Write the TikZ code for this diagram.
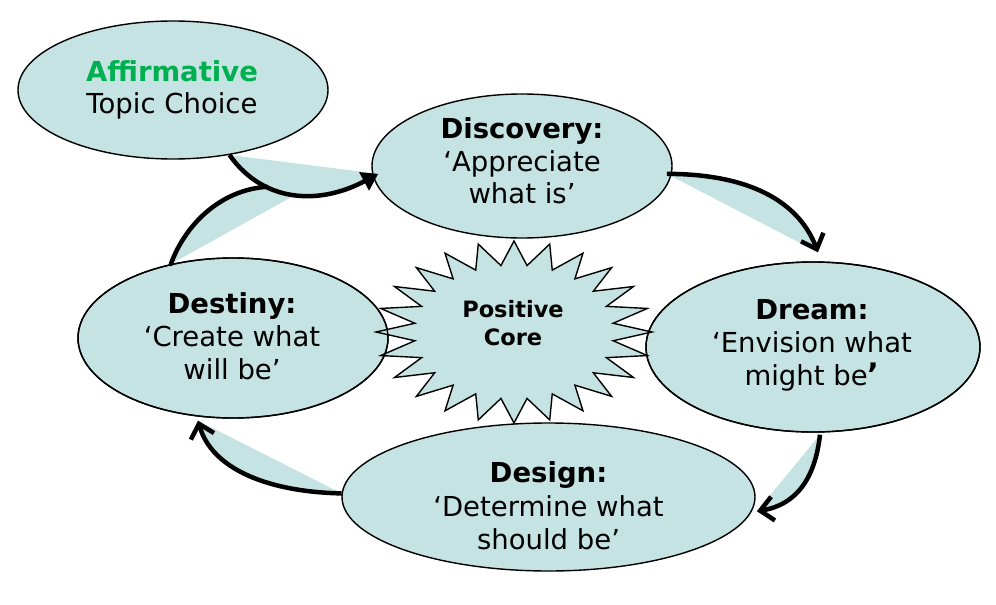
\documentclass[tikz,border=0pt]{standalone}
\usepackage{fontspec}
\setmainfont{DejaVu Sans}
\usetikzlibrary{shapes.geometric,arrows.meta}
\definecolor{cellfill}{RGB}{198,227,227}
\definecolor{affgreen}{RGB}{0,176,80}
\pgfdeclarelayer{bg}
\pgfsetlayers{bg,main}
\tikzset{
  ell/.style={ellipse, draw=black, line width=1.4pt, fill=cellfill, inner sep=0pt},
  ellline/.style={ellipse, draw=black, line width=1.4pt, inner sep=0pt},
  flow/.style={line width=4.5pt, draw=black},
  barb/.style={-{Straight Barb[length=13pt,width=24pt]}},
  tri/.style={-{Triangle[length=16pt,width=20pt]}},
  txt/.style={anchor=base, inner sep=0pt, font=\fontsize{27.5}{33}\selectfont},
  ttl/.style={anchor=base, inner sep=0pt, font=\fontsize{27.5}{33}\selectfont\bfseries},
  coretxt/.style={anchor=base, inner sep=0pt, font=\fontsize{22.5}{28}\selectfont\bfseries},
}
\begin{document}
\begin{tikzpicture}[x=1pt,y=-1pt]
\begin{pgfonlayer}{bg}
  \fill[white] (0,0) rectangle (996,605);
\end{pgfonlayer}
\useasboundingbox (0,0) rectangle (996,605);

% ellipses
\node[ell, minimum width=310pt, minimum height=138pt] (aff) at (173,90) {};
\node[ell, minimum width=300pt, minimum height=144pt] (disc) at (522,166) {};
\node[ell, minimum width=334pt, minimum height=170pt] (dream) at (813,347) {};
\node[ell, minimum width=413pt, minimum height=148pt] (design) at (548.5,497) {};
\node[ell, minimum width=310pt, minimum height=160pt] (dest) at (233,338) {};

% star (positive core)
\path[draw=black, line width=1.4pt, fill=cellfill, line join=miter]
  (652,332)
  \foreach \i [evaluate=\i as \rx using {mod(\i,2)==0 ? 138 : 100},
               evaluate=\i as \ry using {mod(\i,2)==0 ? 91 : 67}] in {1,...,47}
  { -- ({514+\rx*cos(7.5*\i)},{332-\ry*sin(7.5*\i)}) } -- cycle;

% outlines of ellipses over the star
\node[ellline, minimum width=334pt, minimum height=170pt] (dreamline) at (dream) {};
\node[ellline, minimum width=310pt, minimum height=160pt] (destline) at (dest) {};

% end points
\coordinate (a1s) at (aff.-49);
\coordinate (a1e) at ([xshift=6pt]disc.183);
\coordinate (a2s) at ([xshift=-5pt]disc.-3);
\coordinate (a2e) at ([xshift=5pt,yshift=9pt]dream.north);
\coordinate (a3s) at ([xshift=7pt,yshift=-2pt]dream.south);
\coordinate (a3e) at ([xshift=5pt]design.-4);
\coordinate (a4s) at (design.179);
\coordinate (a4e) at ([yshift=-4pt]dest.-114);
\coordinate (a5s) at (dest.130);

% arrows
\draw[flow,tri] (a1s) .. controls (265,205) and (322,204) .. (a1e)
   coordinate[pos=0.3] (jn) coordinate[pos=0.5] (jm);
\draw[flow,line cap=round] (a5s) .. controls (185,225) and (220,190) .. (jn);
\draw[flow,barb] (a2s) .. controls (755,174) and (800,205) .. (a2e);
\draw[flow,barb] (a3s) .. controls (815,480) and (795,505) .. (a3e);
\draw[flow,barb] (a4s) .. controls (270,492) and (212,470) .. (a4e);

% wedges
\begin{pgfonlayer}{bg}
  \fill[cellfill] (a1s) .. controls (265,205) and (322,204) .. (a1e) -- cycle;
  \fill[cellfill] (a5s) .. controls (185,225) and (220,190) .. (jn) -- (jm) -- cycle;
  \fill[cellfill] (a2s) .. controls (755,174) and (800,205) .. (a2e) -- cycle;
  \fill[cellfill] (a3s) .. controls (815,480) and (795,505) .. (a3e) -- cycle;
  \fill[cellfill] (a4s) .. controls (270,492) and (212,470) .. (a4e) -- cycle;
\end{pgfonlayer}

% texts
\node[ttl, text=affgreen] (aff1) at (172,81) {Affirmative};
\node[txt] (aff2) at (172,113) {Topic Choice};
\node[ttl] (disc1) at (522,138) {Discovery:};
\node[txt] (disc2) at (522,171) {‘Appreciate};
\node[txt] (disc3) at (522,203) {what is’};
\node[ttl] (dream1) at (812,319) {Dream:};
\node[txt] (dream2) at (812,352) {‘Envision what};
\node[txt] (dream3) at (812,385) {might be{\bfseries\fontsize{31}{33}\selectfont ’}};
\node[ttl] (design1) at (548.5,482) {Design:};
\node[txt] (design2) at (548.5,516) {‘Determine what};
\node[txt] (design3) at (548.5,549) {should be’};
\node[ttl] (dest1) at (232,313) {Destiny:};
\node[txt] (dest2) at (232,346) {‘Create what};
\node[txt] (dest3) at (232,379) {will be’};
\node[coretxt] (core1) at (513,317) {Positive};
\node[coretxt] (core2) at (513,345) {Core};
\end{tikzpicture}
\end{document}
